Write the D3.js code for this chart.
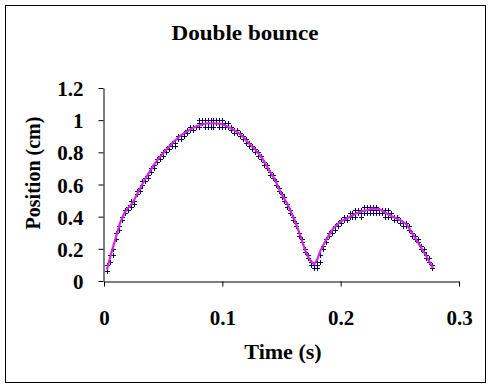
<!DOCTYPE html>
<html>
<head>
<meta charset="utf-8">
<script src="https://cdn.jsdelivr.net/npm/d3@7"></script>
<style>
  html, body { margin: 0; padding: 0; background: #fff; }
  svg { display: block; }
  text { font-family: "Liberation Serif", "Times New Roman", serif; font-weight: bold; fill: #000; }
</style>
</head>
<body>
<svg id="chart" width="491" height="388"></svg>
<script>
// ---- data ----
const title = "Double bounce";
const xTitle = "Time (s)";
const yTitle = "Position (cm)";
const xTicks = [0, 0.1, 0.2, 0.3];
const xTickLabels = ["0", "0.1", "0.2", "0.3"];
const yTicks = [0, 0.2, 0.4, 0.6, 0.8, 1.0, 1.2];
const yTickLabels = ["0", "0.2", "0.4", "0.6", "0.8", "1", "1.2"];

// measured samples (time, overlapping readings)
const sampleTime = [
  0.0025, 0.005, 0.0075, 0.01, 0.0125, 0.015, 0.0175, 0.02, 0.0225, 0.025,
  0.0275, 0.03, 0.0325, 0.035, 0.0375, 0.04, 0.0425, 0.045, 0.0475, 0.05,
  0.0525, 0.055, 0.0575, 0.06, 0.0625, 0.065, 0.0675, 0.07, 0.0725, 0.075,
  0.0775, 0.08, 0.0825, 0.085, 0.0875, 0.09, 0.0925, 0.095, 0.0975, 0.1,
  0.1025, 0.105, 0.1075, 0.11, 0.1125, 0.115, 0.1175, 0.12, 0.1225, 0.125,
  0.1275, 0.13, 0.1325, 0.135, 0.1375, 0.14, 0.1425, 0.145, 0.1475, 0.15,
  0.1525, 0.155, 0.1575, 0.16, 0.1625, 0.165, 0.1675, 0.17, 0.1725, 0.175,
  0.1775, 0.18, 0.1825, 0.185, 0.1875, 0.19, 0.1925, 0.195, 0.1975, 0.2,
  0.2025, 0.205, 0.2075, 0.21, 0.2125, 0.215, 0.2175, 0.22, 0.2225, 0.225,
  0.2275, 0.23, 0.2325, 0.235, 0.2375, 0.24, 0.2425, 0.245, 0.2475, 0.25,
  0.2525, 0.255, 0.2575, 0.26, 0.2625, 0.265, 0.2675, 0.27, 0.2725, 0.275,
  0.2775
];
const samplePosA = [
  0.06, 0.12, 0.20, 0.26, 0.32, 0.38, 0.42, 0.44, 0.46, 0.50,
  0.54, 0.58, 0.60, 0.62, 0.66, 0.70, 0.72, 0.74, 0.78, 0.78,
  0.80, 0.82, 0.84, 0.86, 0.88, 0.90, 0.92, 0.92, 0.94, 0.94,
  0.96, 0.98, 0.98, 0.98, 0.98, 0.98, 0.98, 0.98, 0.98, 0.98,
  0.96, 0.96, 0.94, 0.94, 0.92, 0.90, 0.90, 0.88, 0.86, 0.84,
  0.82, 0.80, 0.76, 0.74, 0.70, 0.68, 0.64, 0.62, 0.58, 0.54,
  0.50, 0.48, 0.44, 0.40, 0.34, 0.30, 0.24, 0.20, 0.14, 0.12,
  0.10, 0.12, 0.16, 0.22, 0.24, 0.28, 0.30, 0.34, 0.36, 0.36,
  0.38, 0.38, 0.40, 0.40, 0.42, 0.42, 0.42, 0.44, 0.44, 0.44,
  0.44, 0.44, 0.44, 0.44, 0.42, 0.42, 0.40, 0.40, 0.38, 0.38,
  0.36, 0.34, 0.32, 0.30, 0.28, 0.24, 0.22, 0.18, 0.16, 0.12,
  0.08
];
const samplePosB = [
  0.10, 0.16, 0.16, 0.30, 0.34, 0.40, 0.44, 0.46, 0.50, 0.48,
  0.56, 0.56, 0.62, 0.64, 0.64, 0.68, 0.70, 0.76, 0.76, 0.80,
  0.82, 0.84, 0.86, 0.84, 0.90, 0.88, 0.90, 0.94, 0.96, 0.96,
  null, 1.00, 1.00, 0.96, 1.00, 0.96, 1.00, 1.00, 1.00, 0.96,
  0.98, 0.98, 0.96, 0.92, 0.94, 0.92, 0.88, 0.86, 0.84, 0.82,
  0.80, 0.78, 0.78, 0.72, 0.72, 0.66, 0.66, 0.60, 0.56, 0.52,
  0.52, 0.46, 0.42, 0.38, 0.36, 0.28, 0.26, 0.18, 0.16, 0.10,
  0.08, 0.08, 0.12, 0.20, 0.26, 0.30, 0.32, 0.32, 0.34, 0.38,
  0.40, 0.40, 0.42, 0.42, 0.40, 0.44, 0.44, 0.42, 0.46, 0.42,
  0.46, 0.42, 0.42, 0.42, 0.44, 0.40, 0.42, 0.38, 0.40, 0.36,
  0.34, 0.36, 0.34, 0.28, 0.26, 0.26, 0.20, 0.20, 0.14, 0.14,
  0.10
];
const samplePosC = [
  null, null, null, null, null, null, null, null, null, null,
  null, null, null, null, null, null, null, null, null, null,
  null, null, null, null, null, null, null, null, null, null,
  null, 0.96, null, 1.00, 0.96, 1.00, 0.96, null, 0.96, 1.00,
  null, null, null, null, null, null, null, null, null, null,
  null, null, null, null, null, null, null, null, null, null,
  null, null, null, null, null, null, null, null, null, null,
  null, 0.10, null, null, null, null, null, null, null, null,
  null, null, null, null, 0.44, null, 0.40, 0.46, 0.42, 0.46,
  0.42, 0.46, 0.44, 0.44, 0.40, 0.44, null, null, null, null,
  null, null, null, null, null, null, null, null, null, null,
  null
];

// fitted curve (magenta)
const fitTime = [
  0.0025, 0.006, 0.01, 0.0135, 0.017, 0.02, 0.0245, 0.03, 0.036, 0.042,
  0.047, 0.053, 0.058, 0.064, 0.07, 0.076, 0.081, 0.087, 0.093, 0.1,
  0.106, 0.112, 0.117, 0.122, 0.128, 0.134, 0.1395, 0.1445, 0.15, 0.155,
  0.161, 0.166, 0.17, 0.174, 0.1775, 0.18, 0.183, 0.188, 0.194, 0.2,
  0.208, 0.216, 0.222, 0.227, 0.233, 0.239, 0.244, 0.25, 0.256, 0.261,
  0.267, 0.272, 0.278
];
const fitPos = [
  0.07, 0.17, 0.27, 0.36, 0.42, 0.45, 0.49, 0.57, 0.65, 0.72,
  0.77, 0.82, 0.86, 0.90, 0.93, 0.955, 0.97, 0.98, 0.98, 0.975,
  0.955, 0.93, 0.90, 0.86, 0.815, 0.76, 0.69, 0.63, 0.54, 0.48,
  0.38, 0.28, 0.19, 0.13, 0.105, 0.13, 0.19, 0.26, 0.33, 0.37,
  0.40, 0.43, 0.44, 0.45, 0.445, 0.42, 0.40, 0.38, 0.35, 0.29,
  0.22, 0.16, 0.08
];

// ---- drawing ----
const svg = d3.select("#chart");
const W = 491, H = 388;

svg.append("rect").attr("x", 0).attr("y", 0).attr("width", W).attr("height", H).attr("fill", "#fff");
svg.append("rect").attr("x", 5.5).attr("y", 5.5).attr("width", 480).attr("height", 377)
  .attr("fill", "none").attr("stroke", "#000").attr("stroke-width", 1);

const x = d3.scaleLinear().domain([0, 0.3]).range([104, 459]);
const y = d3.scaleLinear().domain([0, 1.2]).range([281, 88]);

// axes
const xAxis = d3.axisBottom(x).tickValues(xTicks)
  .tickFormat((d, i) => xTickLabels[i]).tickSizeInner(5).tickSizeOuter(0);
const gx = svg.append("g").attr("transform", "translate(0,281.5)").call(xAxis);
gx.select(".domain").attr("stroke", "#000");
gx.selectAll(".tick line").attr("stroke", "#000");
gx.selectAll(".tick text").attr("y", 43).attr("dy", 0)
  .style("font-family", "'Liberation Serif', serif").style("font-weight", "bold")
  .style("font-size", "21px").attr("fill", "#000");

const yAxis = d3.axisLeft(y).tickValues(yTicks)
  .tickFormat((d, i) => yTickLabels[i]).tickSizeInner(5).tickSizeOuter(0);
const gy = svg.append("g").attr("transform", "translate(103.5,0)").call(yAxis);
gy.select(".domain").attr("stroke", "#000");
gy.selectAll(".tick line").attr("stroke", "#000");
gy.selectAll(".tick text").attr("x", -20).attr("dy", "0.36em")
  .style("font-family", "'Liberation Serif', serif").style("font-weight", "bold")
  .style("font-size", "21px").attr("fill", "#000");

// markers
const pts = [];
sampleTime.forEach((t, i) => {
  [samplePosA, samplePosB, samplePosC].forEach(s => {
    if (s[i] != null) pts.push([t, s[i]]);
  });
});
svg.append("g").selectAll("path").data(pts).join("path")
  .attr("transform", d => `translate(${Math.round(x(d[0])) + 0.5},${Math.round(y(d[1])) + 0.5})`)
  .attr("d", "M-2.5,0H2.5M0,-2.5V2.5")
  .attr("stroke", "#000066").attr("stroke-width", 1).attr("fill", "none");

// fit line
const fit = fitTime.map((t, i) => [t, fitPos[i]]);
svg.append("path").datum(fit)
  .attr("d", d3.line().x(d => x(d[0])).y(d => y(d[1])))
  .attr("fill", "none").attr("stroke", "#d52ad5").attr("stroke-width", 2.2)
  .attr("stroke-linejoin", "round");

// titles
svg.append("text").attr("transform", "translate(245,40) scale(1.1,1)").attr("text-anchor", "middle")
  .style("font-size", "21px").text(title);
svg.append("text").attr("transform", "translate(283,359) scale(1.05,1)").attr("text-anchor", "middle")
  .style("font-size", "21px").text(xTitle);
svg.append("text").attr("transform", "translate(40,173) rotate(-90)").attr("text-anchor", "middle")
  .style("font-size", "20px").text(yTitle);
</script>
</body>
</html>
